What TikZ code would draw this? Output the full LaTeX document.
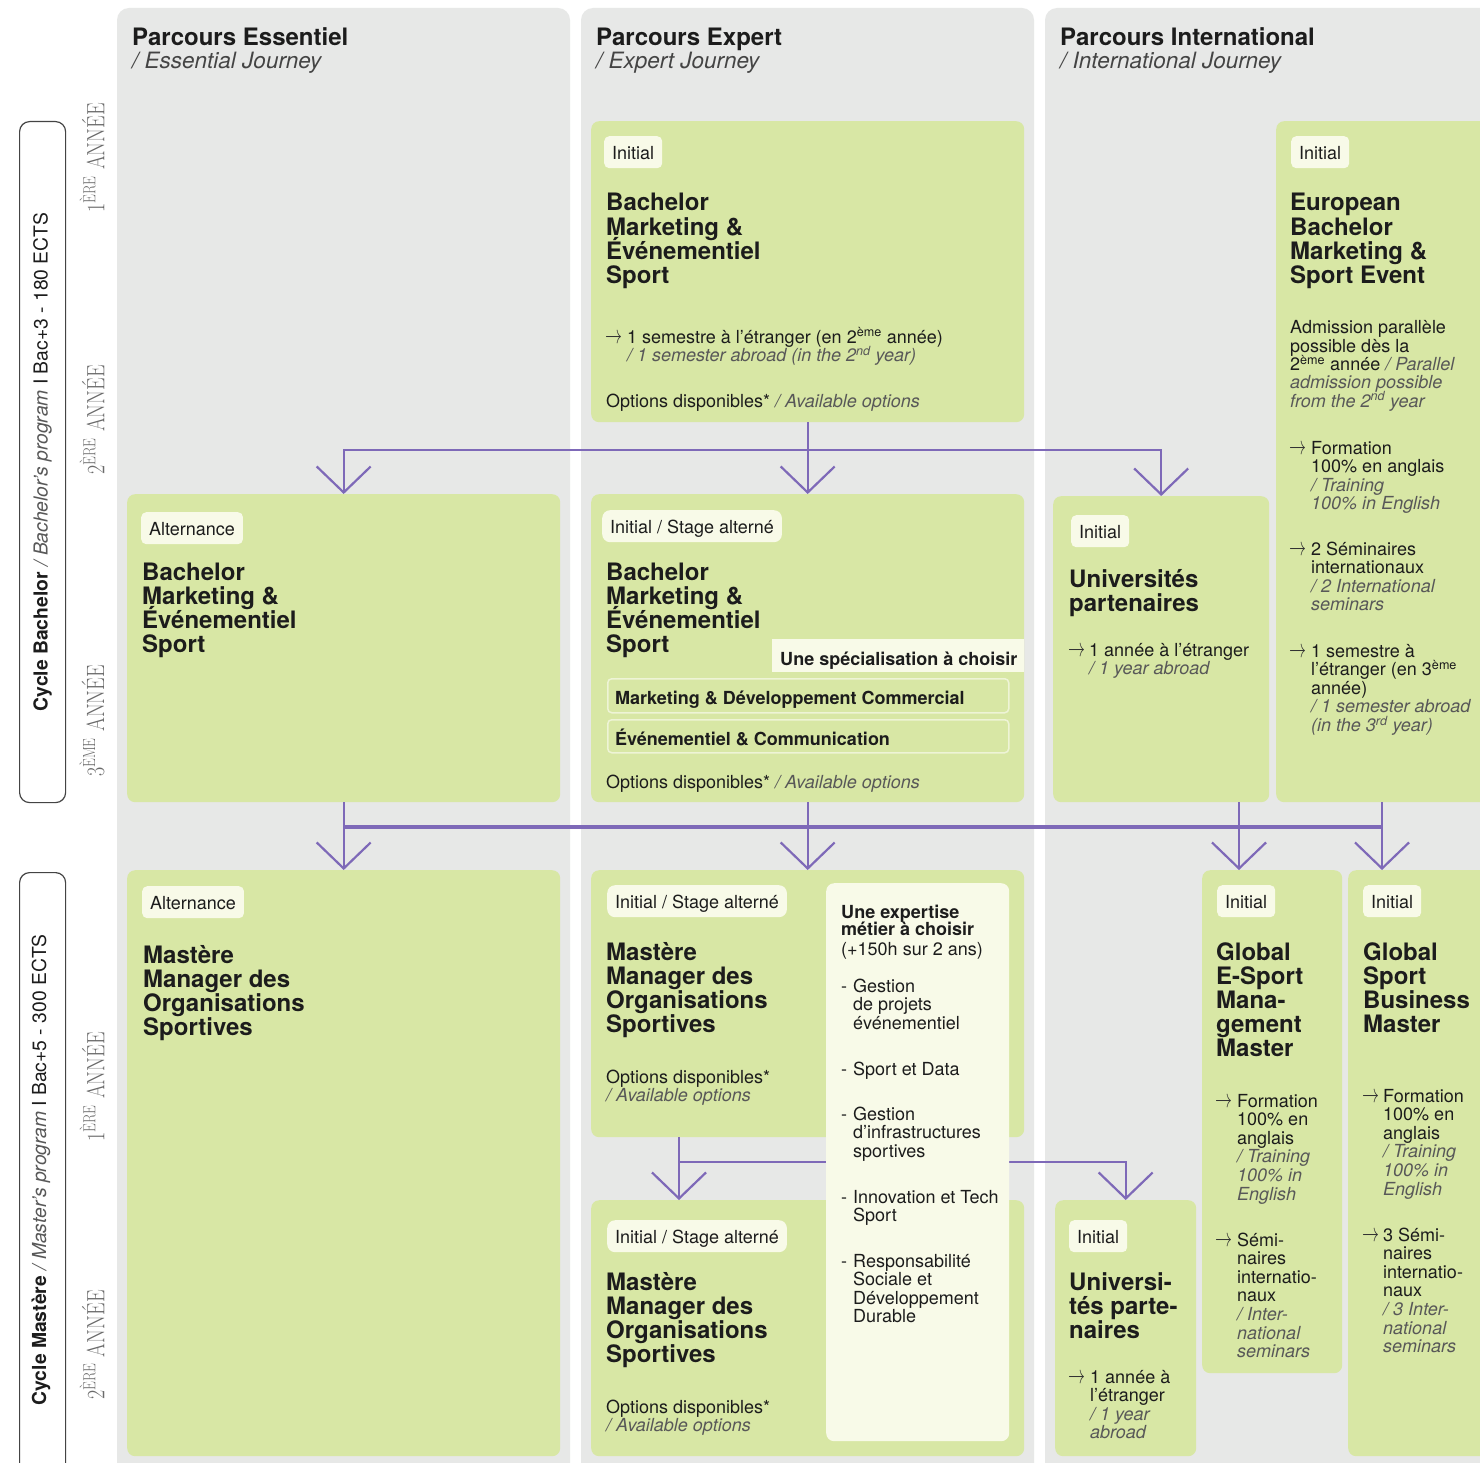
\documentclass[tikz,border=0pt]{standalone}
\usepackage{fontspec}
\setmainfont{TeX Gyre Heros}
\usepackage{graphicx}
\usetikzlibrary{arrows.meta}
\definecolor{cBg}{HTML}{E7E8E7}
\definecolor{cGreen}{HTML}{D8E7A5}
\definecolor{cPale}{HTML}{F8FAE8}
\definecolor{cPurp}{HTML}{7E69B8}
\definecolor{cTxt}{HTML}{1C1C1C}
\definecolor{cEn}{HTML}{585858}
\definecolor{cSide}{HTML}{444444}
\definecolor{cAn}{HTML}{6A6A6A}
\definecolor{cList}{HTML}{5A5A5A}
\definecolor{cOpt}{HTML}{EEF4D6}
\definecolor{cArr}{HTML}{333333}
\newcommand{\blk}[1]{\vtop{\let\\\cr\lineskiplimit=-1000pt\lineskip=0pt\halign{##\hfil\cr#1\crcr}}}
\newcommand{\en}[1]{{\itshape\color{cEn}#1}}
\newcommand{\arr}{{\fontsize{21}{21}\selectfont\color{cArr}\raisebox{-0.5pt}{\scalebox{0.82}[1.25]{$\rightarrow$}}}}
\newcommand{\sps}[1]{\smash{\textsuperscript{#1}}}
\newcommand{\fttl}{\fontsize{24}{24.2}\selectfont\bfseries}
\newcommand{\fbod}{\fontsize{18}{18.6}\selectfont}
\newcommand{\fhead}{\fontsize{24}{24}\selectfont}
\tikzset{
  tx/.style={anchor=base west, inner sep=0pt, text=cTxt},
  body/.style={tx, font=\fbod},
  ttl/.style={tx, font=\fttl},
  bodyb/.style={tx, font=\fbod\bfseries},
  gb/.style={fill=cGreen, rounded corners=8pt, anchor=north west, inner sep=0pt},
  tagbox/.style={fill=cPale, rounded corners=5pt, anchor=north west, inner xsep=8pt, inner ysep=0pt, minimum height=32pt, font=\fbod, text=cTxt, text height=14pt, text depth=0pt},
  optbox/.style={draw=cOpt, line width=1.5pt, rounded corners=4pt, anchor=north west, inner sep=0pt},
  conn/.style={draw=cPurp, line width=2.2pt, -{Straight Barb[length=26pt,width=54pt]}},
  lin/.style={draw=cPurp, line width=2.2pt},
  annee/.style={rotate=90, inner sep=0pt, text=cAn, font=\fontsize{25}{25}\fontfamily{lmr}\selectfont},
  cyc/.style={draw=cSide, line width=1.2pt, rounded corners=10pt, anchor=north west, inner sep=0pt, minimum width=46pt},
  cyct/.style={rotate=90, inner sep=0pt, text=cTxt, font=\fontsize{19.3}{19.3}\selectfont},
  hdi/.style={tx, font=\fontsize{22.5}{22.5}\selectfont\itshape, text=cSide},
}
\begin{document}
\begin{tikzpicture}[x=1pt,y=-1pt]
\useasboundingbox (0,0) rectangle (1480,1463);
\fill[white] (0,0) rectangle (1480,1463);
% column backgrounds
\fill[cBg, rounded corners=12pt] (117,8) rectangle (570,1520);
\fill[cBg, rounded corners=12pt] (581,8) rectangle (1034,1520);
\fill[cBg, rounded corners=12pt] (1045,8) rectangle (1530,1520);

% headers
\node[tx, font=\fhead\bfseries] (h1) at (132,46) {Parcours Essentiel};
\node[hdi] (h1e) at (132,69) {/ Essential Journey};
\node[tx, font=\fhead\bfseries] (h2) at (596,46) {Parcours Expert};
\node[hdi] (h2e) at (596,69) {/ Expert Journey};
\node[tx, font=\fhead\bfseries] (h3) at (1060,46) {Parcours International};
\node[hdi] (h3e) at (1060,69) {/ International Journey};

% side labels
\node[cyc, minimum height=681pt] (cb) at (19,121) {};
\node[cyct] (cbt) at (cb.center) {\textbf{Cycle Bachelor} \en{/ Bachelor's program} I Bac+3 - 180 ECTS};
\node[cyc, minimum height=700pt] (cm) at (19,872) {};
\node[cyct] (cmt) at (41,1170) {\textbf{Cycle Mastère} \en{/ Master's program} I Bac+5 - 300 ECTS};
\node[annee] (a1) at (92,158) {\scalebox{0.8}[1]{1\textsuperscript{ÈRE} ANNÉE}};
\node[annee] (a2) at (92,420) {\scalebox{0.8}[1]{2\textsuperscript{ÈRE} ANNÉE}};
\node[annee] (a3) at (92,721) {\scalebox{0.8}[1]{3\textsuperscript{ÈME} ANNÉE}};
\node[annee] (a4) at (92,1087) {\scalebox{0.8}[1]{1\textsuperscript{ÈRE} ANNÉE}};
\node[annee] (a5) at (92,1345) {\scalebox{0.8}[1]{2\textsuperscript{ÈRE} ANNÉE}};

% green boxes
\node[gb, minimum width=433pt, minimum height=301pt] (c2top) at (591,121) {};
\node[gb, minimum width=230pt, minimum height=681pt] (eur) at (1276,121) {};
\node[gb, minimum width=433pt, minimum height=308pt] (c1b) at (127,494) {};
\node[gb, minimum width=433pt, minimum height=308pt] (c2b) at (591,494) {};
\node[gb, minimum width=216pt, minimum height=306pt] (uni1) at (1053,496) {};
\node[gb, minimum width=433pt, minimum height=586pt] (c1m) at (127,870) {};
\node[gb, minimum width=433pt, minimum height=267pt] (c2m1) at (591,870) {};
\node[gb, minimum width=433pt, minimum height=256pt] (c2m2) at (591,1200) {};
\node[gb, minimum width=141pt, minimum height=256pt] (uni2) at (1055,1200) {};
\node[gb, minimum width=140pt, minimum height=503pt] (esp) at (1202,870) {};
\node[gb, minimum width=160pt, minimum height=586pt] (gsb) at (1348,870) {};

% connectors level 1
\coordinate (j1) at (806,450);
\draw[conn] (c2top.south) -- (c2b.north);
\draw[conn] (j1) -| (c1b.north);
\draw[conn] (j1) -| (uni1.north);
% connectors level 2
\coordinate (b3) at (1239,827);
\coordinate (b4) at (1382,827);
\draw[draw=cPurp, line width=3.4pt] (c1b.south |- b3) -- (b4);
\draw[conn] (c1b.south) -- (c1m.north);
\draw[conn] (c2b.south) -- (c2m1.north);
\draw[lin] (b3 |- uni1.south) -- (b3);
\draw[conn] (b3) -- (b3 |- esp.north);
\draw[lin] (b4 |- eur.south) -- (b4);
\draw[conn] (b4) -- (b4 |- gsb.north);
% connectors level 3
\coordinate (j3) at (679,1162);
\draw[lin] (j3 |- c2m1.south) -- (j3);
\draw[conn] (j3) -- (j3 |- c2m2.north);
\draw[conn] (j3) -| (uni2.north);

% expertise box
\node[fill=cPale, rounded corners=8pt, anchor=north west, inner sep=0pt, minimum width=183pt, minimum height=558pt] (expert) at (826,883) {};

% tags
\node[tagbox] (t1) at (604,136) {Initial};
\node[tagbox] (t2) at (1291,136) {Initial};
\node[tagbox] (t3) at (141,512) {Alternance};
\node[tagbox, rounded corners=8pt] (t4) at (602,510) {Initial / Stage alterné};
\node[tagbox] (t5) at (1071,515) {Initial};
\node[tagbox] (t6) at (142,886) {Alternance};
\node[tagbox, rounded corners=8pt] (t7) at (607,885) {Initial / Stage alterné};
\node[tagbox, rounded corners=8pt] (t8) at (607,1220) {Initial / Stage alterné};
\node[tagbox] (t9) at (1217,885) {Initial};
\node[tagbox] (t10) at (1363,885) {Initial};
\node[tagbox] (t11) at (1069,1220) {Initial};

% col2 top box
\node[ttl] (x1) at (606,211) {\blk{Bachelor\\Marketing \&\\Événementiel\\Sport}};
\node[body] (x2a) at (605,343) {\arr};
\node[body] (x2) at (627,343) {\blk{1 semestre à l’étranger (en 2\sps{ème} année)\\\en{/ 1 semester abroad (in the 2\sps{nd} year)}}};
\node[body] (x3) at (606,407) {Options disponibles* \en{/ Available options}};

% european
\node[ttl] (e1) at (1290,211) {\blk{European\\Bachelor\\Marketing \&\\Sport Event}};
\node[body, font=\fontsize{18}{18.3}\selectfont] (e2) at (1290,334) {\blk{Admission parallèle\\possible dès la\\2\sps{ème} année \en{/ Parallel}\\\en{admission possible}\\\en{from the 2\sps{nd} year}}};
\node[body] (e3a) at (1289,454) {\arr};
\node[body] (e3) at (1311,454) {\blk{Formation\\100\% en anglais\\\en{/ Training}\\\en{100\% in English}}};
\node[body] (e4a) at (1289,555) {\arr};
\node[body] (e4) at (1311,555) {\blk{2 Séminaires\\internationaux\\\en{/ 2 International}\\\en{seminars}}};
\node[body] (e5a) at (1289,657) {\arr};
\node[body] (e5) at (1311,657) {\blk{1 semestre à\\l'étranger (en 3\sps{ème}\\année)\\\en{/ 1 semester abroad}\\\en{(in the 3\sps{rd} year)}}};

% col1 bachelor
\node[ttl] (y1) at (142,580) {\blk{Bachelor\\Marketing \&\\Événementiel\\Sport}};
% col2 bachelor
\node[ttl] (z1) at (606,580) {\blk{Bachelor\\Marketing \&\\Événementiel\\Sport}};
\node[fill=cPale, anchor=north west, inner sep=0pt, minimum width=252pt, minimum height=33pt] (spec) at (772,639) {};
\node[bodyb] (spect) at (780,665) {Une spécialisation à choisir};
\node[optbox, minimum width=401pt, minimum height=34pt] (o1) at (607,678) {};
\node[bodyb] (o1t) at (615,704) {Marketing \& Développement Commercial};
\node[optbox, minimum width=401pt, minimum height=33pt] (o2) at (607,719) {};
\node[bodyb] (o2t) at (615,745) {Événementiel \& Communication};
\node[body] (z3) at (606,788) {Options disponibles* \en{/ Available options}};

% universites 1
\node[ttl] (u1) at (1069,587) {\blk{Universités\\partenaires}};
\node[body] (u2a) at (1068,656) {\arr};
\node[body] (u2) at (1089,656) {\blk{1 année à l'étranger\\\en{/ 1 year abroad}}};

% col1 mastere
\node[ttl] (m1) at (143,963) {\blk{Mastère\\Manager des\\Organisations\\Sportives}};
% col2 mastere 1
\node[ttl] (m2) at (606,960) {\blk{Mastère\\Manager des\\Organisations\\Sportives}};
\node[body] (m2o) at (606,1083) {\blk{Options disponibles*\\\en{/ Available options}}};
% col2 mastere 2
\node[ttl] (m3) at (606,1290) {\blk{Mastère\\Manager des\\Organisations\\Sportives}};
\node[body] (m3o) at (606,1413) {\blk{Options disponibles*\\\en{/ Available options}}};

% expertise
\node[tx, font=\fontsize{18}{17.5}\selectfont\bfseries] (ex1) at (841,918) {\blk{Une expertise\\métier à choisir}};
\node[body] (ex2) at (841,955) {(+150h sur 2 ans)};
\begin{scope}[every node/.append style={text=cList}]
\node[body] (ed1) at (841,992) {-};
\node[body] (el1) at (853,992) {\blk{Gestion\\de projets\\événementiel}};
\node[body] (ed2) at (841,1075) {-};
\node[body] (el2) at (853,1075) {Sport et Data};
\node[body] (ed3) at (841,1120) {-};
\node[body] (el3) at (853,1120) {\blk{Gestion\\d'infrastructures\\sportives}};
\node[body] (ed4) at (841,1203) {-};
\node[body] (el4) at (853,1203) {\blk{Innovation et Tech\\Sport}};
\node[body] (ed5) at (841,1267) {-};
\node[body] (el5) at (853,1267) {\blk{Responsabilité\\Sociale et\\Développement\\Durable}};
\end{scope}

% global e-sport
\node[ttl] (g1) at (1216,960) {\blk{Global\\E-Sport\\Mana-\\gement\\Master}};
\node[body] (g2a) at (1215,1107) {\arr};
\node[body] (g2) at (1237,1107) {\blk{Formation\\100\% en\\anglais\\\en{/ Training}\\\en{100\% in}\\\en{English}}};
\node[body] (g3a) at (1215,1246) {\arr};
\node[body] (g3) at (1237,1246) {\blk{Sémi-\\naires\\internatio-\\naux\\\en{/ Inter-}\\\en{national}\\\en{seminars}}};

% global sport business
\node[ttl] (s1) at (1363,960) {\blk{Global\\Sport\\Business\\Master}};
\node[body] (s2a) at (1362,1102) {\arr};
\node[body] (s2) at (1383,1102) {\blk{Formation\\100\% en\\anglais\\\en{/ Training}\\\en{100\% in}\\\en{English}}};
\node[body] (s3a) at (1362,1241) {\arr};
\node[body] (s3) at (1383,1241) {\blk{3 Sémi-\\naires\\internatio-\\naux\\\en{/ 3 Inter-}\\\en{national}\\\en{seminars}}};

% universites 2
\node[ttl] (v1) at (1069,1290) {\blk{Universi-\\tés parte-\\naires}};
\node[body] (v2a) at (1068,1383) {\arr};
\node[body] (v2) at (1090,1383) {\blk{1 année à\\l'étranger\\\en{/ 1 year}\\\en{abroad}}};
\end{tikzpicture}
\end{document}
